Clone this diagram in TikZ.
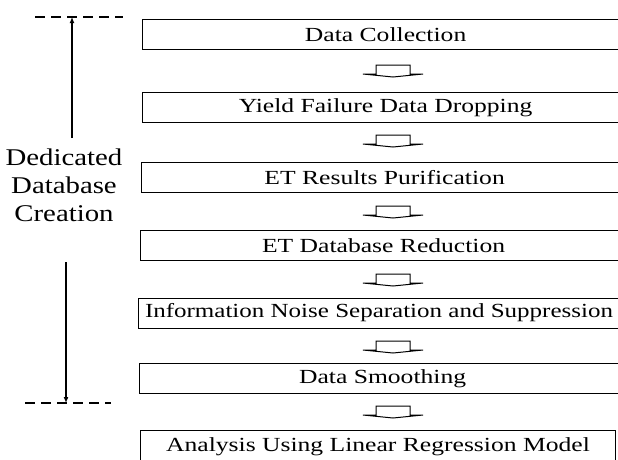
\documentclass[tikz,border=0pt]{standalone}
\usepackage{fontspec}
\setmainfont{Liberation Serif}
\usetikzlibrary{arrows.meta}
\newcommand{\wtx}[1]{\scalebox{1.28}[1]{#1}}
\begin{document}
\begin{tikzpicture}[x=1pt,y=-1pt,line width=1pt,
  stepbox/.style={draw,line width=1.2pt,minimum height=30pt,anchor=north west,inner sep=0pt,
    font=\fontsize{20}{24}\selectfont},
  blockarr/.pic={\draw[line width=1pt,line join=miter] (-17,-6) -- (17,-6) -- (17,3) -- (30,3) -- (0,6) -- (-30,3) -- (-17,3) -- cycle;},
  spanline/.style={line width=1.4pt,dash pattern=on 10pt off 6pt},
  spanarrow/.style={line width=1.3pt,-{Latex[length=6pt,width=5pt]}}
]
\useasboundingbox (0,0) rectangle (618,459);
\fill[white] (0,0) rectangle (618,459);
\clip (0,0) rectangle (618,459);

% process boxes
\node[stepbox,minimum width=486pt] (b1) at (142,19) {\wtx{Data Collection}};
\node[stepbox,minimum width=486pt] (b2) at (142,92) {\wtx{Yield Failure Data Dropping}};
\node[stepbox,minimum width=486pt] (b3) at (141,162) {\wtx{ET Results Purification}};
\node[stepbox,minimum width=486pt] (b4) at (140,230) {\wtx{ET Database Reduction}};
\node[stepbox,minimum width=486pt] (b5) at (138,298) {};
\node[font=\fontsize{20}{24}\selectfont,inner sep=0pt] (t5) at (379,313) {\scalebox{1.25}[1]{Information Noise Separation and Suppression}};
\node[stepbox,minimum width=486pt] (b6) at (139,363) {\wtx{Data Smoothing}};
\node[stepbox,minimum width=475pt,minimum height=40pt,anchor=north west] (b7) at (140,430) {};
\node[font=\fontsize{20}{24}\selectfont] (t7) at (378,447) {\wtx{Analysis Using Linear Regression Model}};

% block arrows between boxes
\pic at (393,71) {blockarr};
\pic at (393,141) {blockarr};
\pic at (393,212) {blockarr};
\pic at (393,280) {blockarr};
\pic at (393,347) {blockarr};
\pic at (393,412) {blockarr};

% span markers on the left
\coordinate (ta) at (35,17);
\coordinate (tb) at (123,17);
\coordinate (ba) at (25,403);
\coordinate (bb) at (111,403);
\draw[spanline] (ta) -- (tb);
\draw[spanline] (ba) -- (bb);
\coordinate (u0) at (72,138);
\coordinate (u1) at (72,17);
\coordinate (d0) at (66,262);
\coordinate (d1) at (66,403);
\draw[spanarrow] (u0) -- (u1);
\draw[spanarrow] (d0) -- (d1);

\node[font=\fontsize{24}{28}\selectfont,inner sep=0pt] (lab) at (64,188)
  {\scalebox{1.2}[1]{\begin{tabular}{@{}c@{}}Dedicated\\Database\\Creation\end{tabular}}};
\end{tikzpicture}
\end{document}
